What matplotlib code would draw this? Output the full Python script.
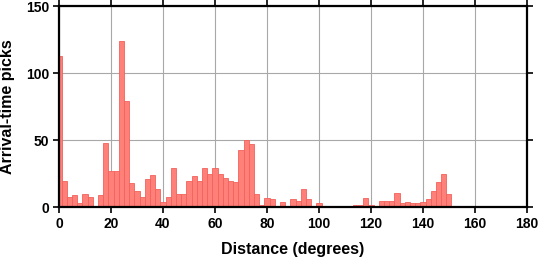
import matplotlib
matplotlib.use("Agg")
import matplotlib.pyplot as plt
import numpy as np

plt.rcParams['font.family'] = ['Liberation Sans', 'DejaVu Sans']
plt.rcParams['font.weight'] = 'bold'

# histogram bins of 2 degrees, centred on even distances
bin_centers = np.arange(0, 180, 2)
counts = [113, 20, 8, 9, 3, 10, 8, 0, 9, 48,
          27, 27, 124, 79, 18, 12, 8, 21, 24, 14,
          4, 8, 29, 10, 10, 20, 23, 20, 29, 25,
          29, 25, 22, 20, 19, 43, 50, 47, 10, 2,
          7, 6, 1, 4, 1, 6, 5, 14, 6, 0,
          3, 0, 1, 1, 1, 0, 0, 2, 2, 7,
          2, 1, 5, 5, 5, 11, 3, 4, 3, 3,
          4, 6, 12, 19, 25, 10, 0, 0, 0, 0,
          0, 1, 0, 0, 0, 0, 0, 0, 0, 0]
bin_width = 2

fig = plt.figure(figsize=(5.39, 2.58), dpi=100)
ax = fig.add_axes([0.1095, 0.1965, 0.868, 0.779])

ax.bar(bin_centers, counts, width=bin_width, color='#ff8078',
       edgecolor='#f2625c', linewidth=0.6, zorder=2)

ax.set_xlim(0, 180)
ax.set_ylim(0, 150)
ax.set_xticks(np.arange(0, 181, 20))
ax.set_yticks([0, 50, 100, 150])
ax.grid(True, color='#a8a8a8', linewidth=0.8, zorder=0)
ax.set_axisbelow(True)

for s in ax.spines.values():
    s.set_linewidth(1.6)
    s.set_zorder(3)
ax.tick_params(direction='out', length=4, width=1.2, labelsize=10,
               top=True, right=True, pad=3)
for lab in ax.get_xticklabels() + ax.get_yticklabels():
    lab.set_fontweight('bold')

ax.set_xlabel('Distance (degrees)', fontsize=11.5, fontweight='bold', labelpad=8)
ax.set_ylabel('Arrival-time picks', fontsize=11.5, fontweight='bold', labelpad=8)

fig.savefig('out.png', dpi=100)
